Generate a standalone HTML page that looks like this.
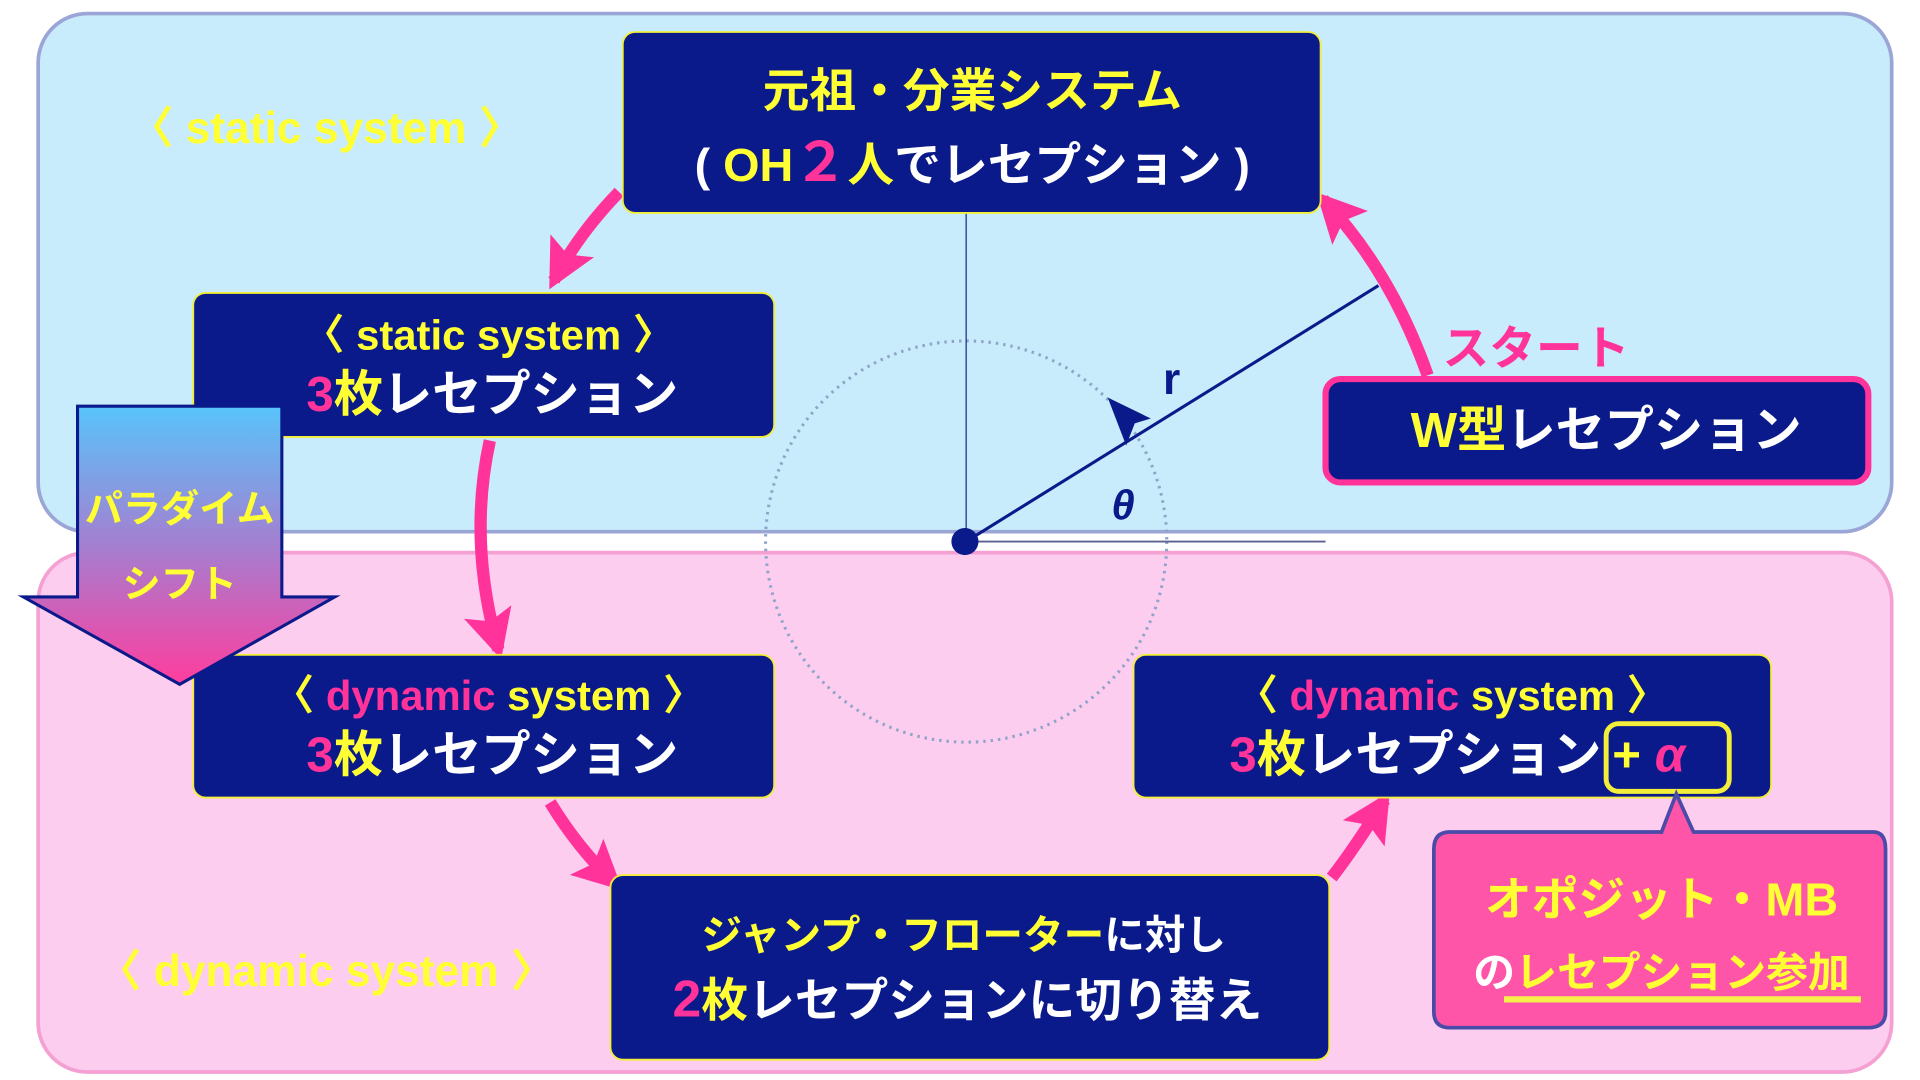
<!DOCTYPE html>
<html><head><meta charset="utf-8"><style>
html,body{margin:0;padding:0;background:#fff;}
svg{display:block;}
text{font-family:"Liberation Sans","Noto Sans CJK JP",sans-serif;font-weight:bold;}
</style></head><body>
<svg width="1920" height="1080" viewBox="0 0 1560 877.5" preserveAspectRatio="none" xmlns="http://www.w3.org/2000/svg">
<defs>
<linearGradient id="pg" x1="0" y1="0" x2="0" y2="1">
<stop offset="0" stop-color="#58c4fb"/><stop offset="0.5" stop-color="#a47fd0"/><stop offset="1" stop-color="#ff3d9e"/>
</linearGradient>
<marker id="ah" viewBox="0 0 10 10" refX="8" refY="5" markerWidth="4" markerHeight="4" orient="auto" markerUnits="strokeWidth">
<path d="M0,0 L10,5 L0,10 L2,5 z" fill="#ff3399"/></marker>
</defs>
<rect x="0" y="0" width="1560" height="878" fill="#fff"/>
<rect x="31" y="11" width="1506" height="421" rx="40" fill="#c8ecfb" stroke="#9ba6d6" stroke-width="3"/>
<rect x="31" y="449" width="1506" height="422" rx="40" fill="#fccdee" stroke="#f5a0d2" stroke-width="3"/>

<!-- geometry -->
<circle cx="785" cy="440" r="163" fill="none" stroke="#8fa4c9" stroke-width="2.5" stroke-dasharray="2 4"/>
<line x1="785" y1="173" x2="785" y2="440" stroke="#1a2a8a" stroke-width="1"/>
<line x1="785" y1="440" x2="1077" y2="440" stroke="#5a6090" stroke-width="1.5"/>
<line x1="785" y1="440" x2="1120" y2="232" stroke="#0a1a8a" stroke-width="2.5"/>
<path d="M900,323 L935,340 L922,344 L915,362 z" fill="#0a1a8a"/>
<circle cx="784" cy="440" r="11" fill="#0a1a8a"/>
<text x="945" y="320" font-size="36" fill="#0a1a8a">r</text>
<text x="903" y="422" font-size="34" fill="#0a1a8a" font-style="italic">θ</text>

<!-- arrows -->
<g fill="none" stroke="#ff3399" stroke-width="10">
<path d="M503,156 Q470,190 450,228" marker-end="url(#ah)"/>
<path d="M398,358 Q380,440 405,528" marker-end="url(#ah)"/>
<path d="M447,652 Q470,690 500,718" marker-end="url(#ah)"/>
<path d="M1082,713 Q1100,690 1125,650" marker-end="url(#ah)"/>
<path d="M1160,305 Q1130,220 1075,162" marker-end="url(#ah)"/>
</g>
<text x="1172" y="296" font-size="38" fill="#ff3399">スタート</text>

<!-- boxes -->
<rect x="506" y="26" width="567" height="147" rx="10" fill="#0a1a8a" stroke="#f2ee3a" stroke-width="1.5"/>
<text x="790" y="87" font-size="38" fill="#ffff33" text-anchor="middle">元祖・分業システム</text>
<text x="790" y="147" font-size="38" fill="#fff" text-anchor="middle"><tspan>( </tspan><tspan fill="#ffff33">OH</tspan><tspan fill="#ff3399" font-size="44">２</tspan><tspan fill="#ffff33">人</tspan>でレセプション )</text>

<rect x="157" y="238" width="472" height="117" rx="10" fill="#0a1a8a" stroke="#f2ee3a" stroke-width="1.5"/>
<text x="397" y="284" font-size="34" fill="#ffff33" text-anchor="middle">〈 static system 〉</text>
<text x="400" y="334" font-size="40" fill="#fff" text-anchor="middle"><tspan fill="#ff3399">3</tspan><tspan fill="#ffff33">枚</tspan>レセプション</text>

<rect x="157" y="532" width="472" height="116" rx="10" fill="#0a1a8a" stroke="#f2ee3a" stroke-width="1.5"/>
<text x="397" y="577" font-size="34" fill="#ffff33" text-anchor="middle">〈 <tspan fill="#ff3399">dynamic</tspan> system 〉</text>
<text x="400" y="627" font-size="40" fill="#fff" text-anchor="middle"><tspan fill="#ff3399">3</tspan><tspan fill="#ffff33">枚</tspan>レセプション</text>

<rect x="496" y="711" width="584" height="150" rx="10" fill="#0a1a8a" stroke="#f2ee3a" stroke-width="1.5"/>
<text x="783" y="771" font-size="33" fill="#fff" text-anchor="middle"><tspan fill="#ffff33">ジャンプ・フローター</tspan>に対し</text>
<text x="786" y="826" font-size="38" fill="#fff" text-anchor="middle"><tspan fill="#ff3399" font-size="42">2</tspan><tspan fill="#ffff33">枚</tspan>レセプションに切り替え</text>

<rect x="921" y="532" width="518" height="116" rx="10" fill="#0a1a8a" stroke="#f2ee3a" stroke-width="1.5"/>
<text x="1180" y="577" font-size="34" fill="#ffff33" text-anchor="middle">〈 <tspan fill="#ff3399">dynamic</tspan> system 〉</text>
<text x="1150" y="627" font-size="40" fill="#fff" text-anchor="middle"><tspan fill="#ff3399">3</tspan><tspan fill="#ffff33">枚</tspan>レセプション</text>
<text x="1310" y="627" font-size="40" fill="#ffff33">+ <tspan fill="#ff3399" font-style="italic">α</tspan></text>
<rect x="1305" y="588" width="100" height="55" rx="10" fill="none" stroke="#f2ee3a" stroke-width="4"/>

<!-- callout -->
<path d="M1178,676 L1350,676 L1362,645 L1376,676 L1522,676 Q1532,676 1532,690 L1532,822 Q1532,835 1518,835 L1178,835 Q1165,835 1165,822 L1165,690 Q1165,676 1178,676 z" fill="#ff55a8" stroke="#4a4aa8" stroke-width="3"/>
<text x="1350" y="744" font-size="38" fill="#ffff33" text-anchor="middle">オポジット・MB</text>
<text x="1350" y="802" font-size="34" fill="#ffff33" text-anchor="middle"><tspan fill="#fff">の</tspan>レセプション参加</text>
<line x1="1222" y1="812" x2="1512" y2="812" stroke="#f5f04a" stroke-width="5"/>

<!-- W box -->
<rect x="1077" y="308" width="441" height="84" rx="12" fill="#0a1a8a" stroke="#ff3399" stroke-width="5"/>
<text x="1305" y="363" font-size="40" fill="#fff" text-anchor="middle"><tspan fill="#ffff33">W型</tspan>レセプション</text>

<!-- paradigm arrow -->
<path d="M63,330 L229,330 L229,485 L272,485 L146,556 L19,485 L63,485 z" fill="url(#pg)" stroke="#0a1a8a" stroke-width="2.5"/>
<text x="146" y="424" font-size="31" fill="#ffff33" text-anchor="middle">パラダイム</text>
<text x="146" y="485" font-size="31" fill="#ffff33" text-anchor="middle">シフト</text>

<text x="265" y="116" font-size="36" fill="#ffff33" text-anchor="middle" font-weight="normal">〈 static system 〉</text>
<text x="265" y="801" font-size="36" fill="#ffff33" text-anchor="middle" font-weight="normal">〈 dynamic system 〉</text>
</svg>
</body></html>
